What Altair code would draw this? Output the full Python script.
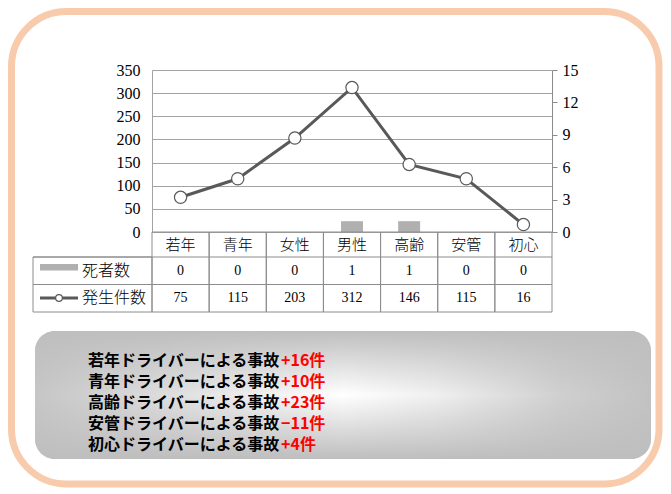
import altair as alt
import pandas as pd

# ---- data ----
categories = ["若年", "青年", "女性", "男性", "高齢", "安管", "初心"]
deaths = [0, 0, 0, 1, 1, 0, 0]
incidents = [75, 115, 203, 312, 146, 115, 16]
left_ticks = [0, 50, 100, 150, 200, 250, 300, 350]
right_ticks = [0, 3, 6, 9, 12, 15]
row_labels = ["死者数", "発生件数"]
note_prefix = [
    "若年ドライバーによる事故",
    "青年ドライバーによる事故",
    "高齢ドライバーによる事故",
    "安管ドライバーによる事故",
    "初心ドライバーによる事故",
]
note_delta = ["+16件", "+10件", "+23件", "−11件", "+4件"]

df = pd.DataFrame({"cat": categories, "deaths": deaths, "incidents": incidents})
one = pd.DataFrame({"k": [0]})

SERIF = "Liberation Serif, Noto Sans CJK JP"
CJK = "Noto Sans CJK JP"
GRID = "#A3A3A3"
TABLE = "#8C8C8C"
LINE = "#595959"
BAR = "#B0B0B0"

xs = alt.Scale(type="band", domain=categories, paddingInner=0, paddingOuter=0)
X = alt.X("cat:N", scale=xs, axis=None, sort=categories)

# ---- decorations (outside plot area) ----
border = alt.Chart(one).mark_rect(
    filled=False, stroke="#F8CBAD", strokeWidth=7, cornerRadius=55
).encode(x=alt.value(-140.5), x2=alt.value(507), y=alt.value(-58.5), y2=alt.value(414))

box_h = alt.Chart(one).mark_rect(
    cornerRadius=20,
    fill={
        "gradient": "linear", "x1": 0, "y1": 0, "x2": 1, "y2": 0,
        "stops": [
            {"offset": 0, "color": "#C6C6C6"},
            {"offset": 0.2, "color": "#DCDCDC"},
            {"offset": 0.5, "color": "#FFFFFF"},
            {"offset": 0.65, "color": "#F0F0F0"},
            {"offset": 0.85, "color": "#D0D0D0"},
            {"offset": 1, "color": "#C2C2C2"},
        ],
    },
).encode(x=alt.value(-117), x2=alt.value(499), y=alt.value(261), y2=alt.value(389))

box_v = alt.Chart(one).mark_rect(
    cornerRadius=20,
    fill={
        "gradient": "linear", "x1": 0, "y1": 0, "x2": 0, "y2": 1,
        "stops": [
            {"offset": 0, "color": "rgba(190,190,190,1)"},
            {"offset": 0.5, "color": "rgba(190,190,190,0)"},
            {"offset": 1, "color": "rgba(190,190,190,1)"},
        ],
    },
).encode(x=alt.value(-117), x2=alt.value(499), y=alt.value(261), y2=alt.value(389))

note_black = alt.Chart(one).mark_text(
    align="left", baseline="alphabetic", font=CJK, fontSize=16, fontWeight="bold",
    lineHeight=21, color="#000000"
).encode(x=alt.value(-64), y=alt.value(296), text=alt.value(note_prefix))

note_red = alt.Chart(one).mark_text(
    align="left", baseline="alphabetic", font=CJK, fontSize=16, fontWeight="bold",
    lineHeight=21, color="#FF0000"
).encode(x=alt.value(129), y=alt.value(296), text=alt.value(note_delta))

# ---- chart ----
bars = alt.Chart(df).mark_bar(size=22, color=BAR).encode(
    x=X,
    y=alt.Y(
        "deaths:Q",
        scale=alt.Scale(domain=[0, 15], nice=False),
        axis=alt.Axis(
            orient="right", values=right_ticks, grid=False, ticks=True, tickSize=5,
            tickColor=TABLE, domainColor=TABLE, labelPadding=5, title=None,
            labelFont=SERIF, labelFontSize=16, labelColor="#000000",
        ),
    ),
)

line = alt.Chart(df).mark_line(
    color=LINE, strokeWidth=3,
    point=alt.OverlayMarkDef(
        shape="circle", filled=True, fill="#FFFFFF", stroke=LINE, strokeWidth=1.2,
        size=150, opacity=1
    ),
).encode(
    x=X,
    y=alt.Y(
        "incidents:Q",
        scale=alt.Scale(domain=[0, 350], nice=False),
        axis=alt.Axis(
            orient="left", values=left_ticks, grid=True, gridColor=GRID, gridWidth=1.2,
            ticks=False, domain=True, domainColor=GRID, labelPadding=12, title=None,
            labelFont=SERIF, labelFontSize=16, labelColor="#000000",
        ),
    ),
)

# ---- table ----
cells = alt.Chart(df).mark_rect(filled=False, color=TABLE, strokeWidth=1).encode(
    x=X, y=alt.value(162), y2=alt.value(242)
)
legend_cell = alt.Chart(one).mark_rect(filled=False, color=TABLE, strokeWidth=1).encode(
    x=alt.value(-119), x2=alt.value(0), y=alt.value(187), y2=alt.value(242)
)
rule1 = alt.Chart(one).mark_rule(color=TABLE, strokeWidth=1).encode(
    x=alt.value(-119), x2=alt.value(400), y=alt.value(187)
)
rule2 = alt.Chart(one).mark_rule(color=TABLE, strokeWidth=1).encode(
    x=alt.value(-119), x2=alt.value(400), y=alt.value(214.5)
)

header = alt.Chart(df).mark_text(
    font=CJK, fontSize=15, baseline="middle", color="#000000", fontWeight=300
).encode(x=X, y=alt.value(175), text="cat:N")

row_d = alt.Chart(df).mark_text(
    font=SERIF, fontSize=14, baseline="middle", color="#000000"
).encode(x=X, y=alt.value(201), text="deaths:Q")

row_i = alt.Chart(df).mark_text(
    font=SERIF, fontSize=14, baseline="middle", color="#000000"
).encode(x=X, y=alt.value(228), text="incidents:Q")

lab_d = alt.Chart(one).mark_text(
    font=CJK, fontSize=16, baseline="middle", align="left", color="#000000", fontWeight=300
).encode(x=alt.value(-70), y=alt.value(201), text=alt.value(row_labels[0]))

lab_i = alt.Chart(one).mark_text(
    font=CJK, fontSize=16, baseline="middle", align="left", color="#000000", fontWeight=300
).encode(x=alt.value(-70), y=alt.value(228), text=alt.value(row_labels[1]))

sym_bar = alt.Chart(one).mark_rect(color=BAR).encode(
    x=alt.value(-112), x2=alt.value(-74), y=alt.value(194), y2=alt.value(200.5)
)
sym_line = alt.Chart(one).mark_rule(color=LINE, strokeWidth=3).encode(
    x=alt.value(-112), x2=alt.value(-74), y=alt.value(228)
)
sym_pt = alt.Chart(one).mark_point(
    shape="circle", filled=True, fill="#FFFFFF", stroke=LINE, strokeWidth=1.2,
    size=45, opacity=1
).encode(x=alt.value(-93), y=alt.value(228))

chart = alt.layer(
    border, box_h, box_v, note_black, note_red,
    line, bars,
    cells, legend_cell, rule1, rule2,
    header, row_d, row_i, lab_d, lab_i,
    sym_bar, sym_line, sym_pt,
).resolve_scale(y="independent").properties(
    width=400, height=162,
    padding={"left": 144, "top": 62, "right": 111, "bottom": 256},
    autosize=alt.AutoSizeParams(type="none"),
    background="#FFFFFF",
).configure_view(strokeWidth=0)

chart.save("out.html", embed_options={"renderer": "svg", "actions": False})
